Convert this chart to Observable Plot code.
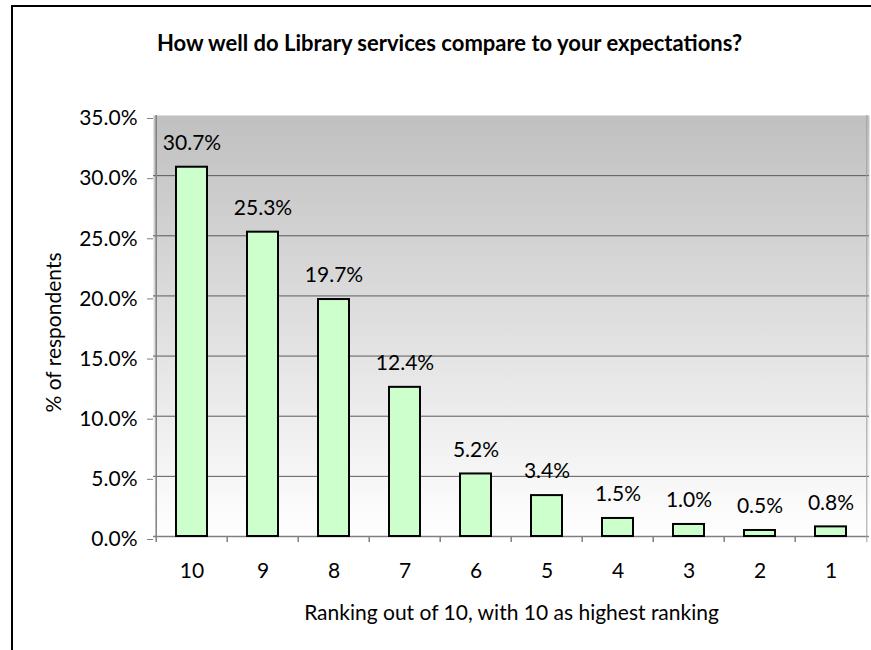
<!DOCTYPE html>
<html>
<head>
<meta charset="utf-8">
<script src="https://cdn.jsdelivr.net/npm/d3@7"></script>
<script src="https://cdn.jsdelivr.net/npm/@observablehq/plot@0.6"></script>
<style>
  html, body { margin: 0; padding: 0; background: #fff; overflow: hidden; }
</style>
</head>
<body>
<div id="chart"></div>
<script>
const chartTitle = "How well do Library services compare to your expectations?";
const xTitle = "Ranking out of 10, with 10 as highest ranking";
const yTitle = "% of respondents";
const ranks = ["10", "9", "8", "7", "6", "5", "4", "3", "2", "1"];
const percents = [30.7, 25.3, 19.7, 12.4, 5.2, 3.4, 1.5, 1.0, 0.5, 0.8];
const yTicks = [0, 5, 10, 15, 20, 25, 30, 35];
const gridValues = [5, 10, 15, 20, 25, 30];

const data = ranks.map((r, i) => ({rank: r, pct: percents[i]}));

const W = 871, H = 650;
const mL = 153, mR = 2, mT = 115, mB = 114;
const halfStep = (W - mL - mR) / ranks.length / 2;
const fmt = d => d.toFixed(1) + "%";

const defs = () => {
  const d = d3.create("svg:defs");
  const g = d.append("linearGradient").attr("id", "bg")
    .attr("x1", 0).attr("y1", 0).attr("x2", 0).attr("y2", 1);
  g.append("stop").attr("offset", "0%").attr("stop-color", "#c0c0c0");
  g.append("stop").attr("offset", "100%").attr("stop-color", "#ffffff");
  return d.node();
};
const border = () => {
  const p = d3.create("svg:path")
    .attr("d", `M12,${H + 10}V6H${W + 10}`)
    .attr("fill", "none").attr("stroke", "#000").attr("stroke-width", 2);
  return p.node();
};

const chart = Plot.plot({
  width: W, height: H,
  marginLeft: mL, marginRight: mR, marginTop: mT, marginBottom: mB,
  style: {fontFamily: "Lato", fontSize: "21px", color: "#000", background: "#fff", overflow: "hidden"},
  x: {domain: ranks, paddingInner: 0.567, paddingOuter: 0.2835, label: null},
  y: {domain: [0, 35], label: null},
  marks: [
    defs,
    Plot.frame({fill: "url(#bg)", stroke: null}),
    Plot.ruleY(gridValues, {stroke: "#5a5a5a", strokeWidth: 1}),
    Plot.ruleY([0], {stroke: "#808080", strokeWidth: 1.5}),
    Plot.ruleX([ranks[0]], {x: d => d, y1: -0.5, y2: 35, dx: -halfStep, stroke: "#808080", strokeWidth: 1.5}),
    Plot.ruleX([ranks[ranks.length - 1]], {x: d => d, y1: -0.5, y2: 35, dx: halfStep, stroke: "#a0a0a0", strokeWidth: 1}),
    Plot.ruleX(ranks.slice(1), {x: d => d, y1: 0, y2: -0.5, dx: -halfStep, stroke: "#808080", strokeWidth: 1.5}),
    Plot.barY(data, {x: "rank", y: "pct", fill: "#ccffcc", stroke: "#000", strokeWidth: 2}),
    Plot.text(data, {x: "rank", y: "pct", text: d => fmt(d.pct), dy: -24, fill: "#000"}),
    Plot.axisY({ticks: yTicks, tickFormat: fmt, tickSize: 6, tickPadding: 10, stroke: "#808080", dy: 3, label: null}),
    Plot.axisX({tickSize: 0, tickPadding: 27, label: null}),
    Plot.text([chartTitle], {text: d => d, frameAnchor: "top", lineAnchor: "middle", dx: -62, dy: -72, fontWeight: "bold", fontSize: 22, fill: "#000"}),
    Plot.text([xTitle], {text: d => d, frameAnchor: "bottom", lineAnchor: "middle", dy: 77, fill: "#000"}),
    Plot.text([yTitle], {text: d => d, frameAnchor: "left", textAnchor: "middle", lineAnchor: "middle", dx: -99, dy: 6.5, rotate: -90, fill: "#000"}),
    border
  ]
});
document.getElementById("chart").appendChild(chart);
</script>
</body>
</html>
